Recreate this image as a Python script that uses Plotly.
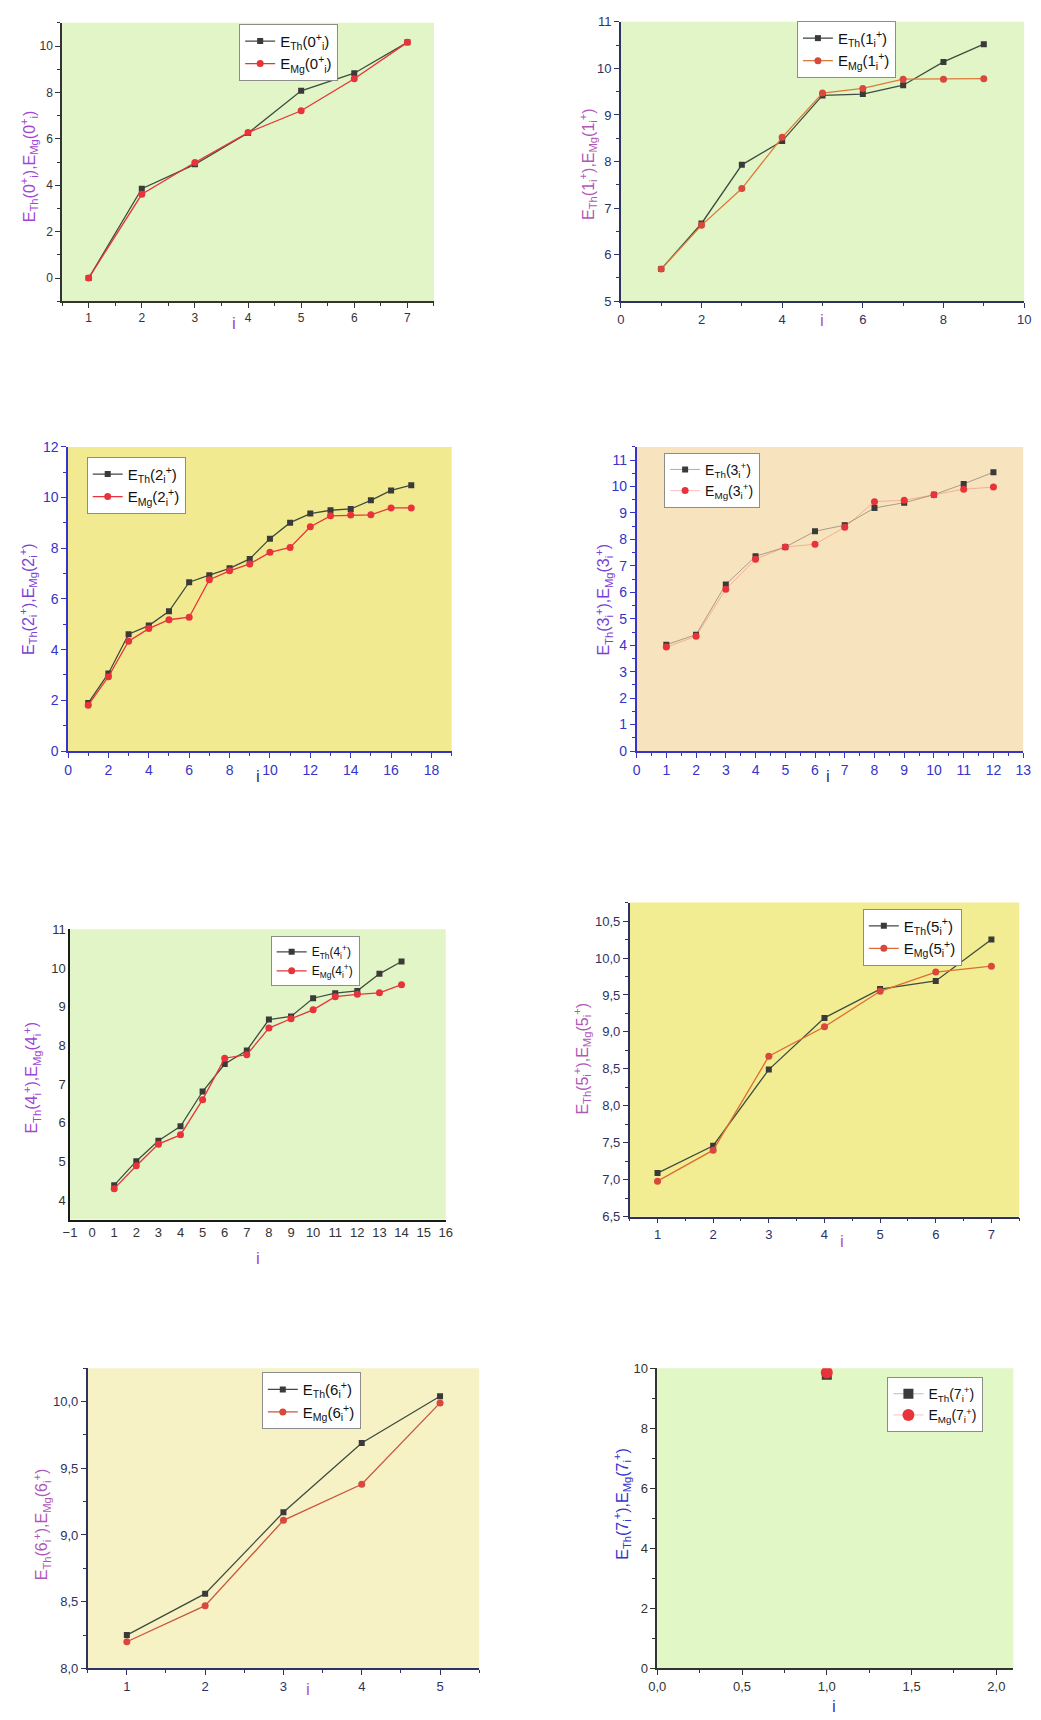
import plotly.graph_objects as go

W, H = 1041, 1720

# Level index i and excitation energies for each J^pi (Th = theory, Mg = experiment)
i_0 = [1, 2, 3, 4, 5, 6, 7]
th_0 = [0.0, 3.85, 4.90, 6.25, 8.07, 8.83, 10.16]
mg_0 = [0.0, 3.61, 4.98, 6.27, 7.21, 8.59, 10.16]

i_1 = [1, 2, 3, 4, 5, 6, 7, 8, 9]
th_1 = [5.69, 6.67, 7.93, 8.44, 9.42, 9.45, 9.64, 10.14, 10.52]
mg_1 = [5.69, 6.63, 7.42, 8.52, 9.47, 9.57, 9.77, 9.77, 9.78]

i_2 = [1, 2, 3, 4, 5, 6, 7, 8, 9, 10, 11, 12, 13, 14, 15, 16, 17]
th_2 = [1.89, 3.06, 4.61, 4.95, 5.51, 6.66, 6.94, 7.21, 7.58, 8.38, 9.01,
        9.37, 9.50, 9.55, 9.89, 10.28, 10.49]
mg_2 = [1.81, 2.93, 4.33, 4.83, 5.18, 5.28, 6.76, 7.11, 7.38, 7.84, 8.03,
        8.85, 9.28, 9.31, 9.32, 9.59, 9.59]

i_3 = [1, 2, 3, 4, 5, 6, 7, 8, 9, 10, 11, 12]
th_3 = [4.02, 4.40, 6.30, 7.36, 7.71, 8.31, 8.54, 9.19, 9.39, 9.69, 10.10, 10.54]
mg_3 = [3.93, 4.34, 6.12, 7.25, 7.71, 7.82, 8.46, 9.43, 9.48, 9.69, 9.90, 9.98]

i_4 = [1, 2, 3, 4, 5, 6, 7, 8, 9, 10, 11, 12, 13, 14]
th_4 = [4.39, 5.01, 5.54, 5.91, 6.81, 7.52, 7.87, 8.67, 8.75, 9.22, 9.35, 9.41, 9.85, 10.17]
mg_4 = [4.30, 4.89, 5.45, 5.69, 6.60, 7.67, 7.76, 8.45, 8.69, 8.92, 9.26, 9.32, 9.36, 9.57]

i_5 = [1, 2, 3, 4, 5, 6, 7]
th_5 = [7.09, 7.46, 8.49, 9.19, 9.58, 9.69, 10.25]
mg_5 = [6.98, 7.40, 8.67, 9.07, 9.55, 9.81, 9.89]

i_6 = [1, 2, 3, 4, 5]
th_6 = [8.25, 8.56, 9.17, 9.69, 10.04]
mg_6 = [8.20, 8.47, 9.11, 9.38, 9.99]

i_7 = [1]
th_7 = [9.78]
mg_7 = [9.86]

FONT = "Liberation Sans, Arial, sans-serif"


def fx(x):
    return x / W


def fy(y):
    return 1 - y / H


def lbl(kind, j, first_sup=False):
    sub = "Th" if kind == "th" else "Mg"
    if first_sup:
        return f"E<sub>{sub}</sub>({j}<sup>+</sup><sub>i</sub>)"
    return f"E<sub>{sub}</sub>({j}<sub>i</sub><sup>+</sup>)"


def ytitle(j, first_sup=False):
    if first_sup:
        a = f"({j}<sup>+</sup><sub>i</sub>)"
    else:
        a = f"({j}<sub>i</sub><sup>+</sup>)"
    return f"E<sub>Th</sub>{a},E<sub>Mg</sub>{a}"


PURPLE = "#a046d2"
MAGENTA = "#b058b8"
VIOLET = "#7a3fd6"
BLUE = "#3434cc"
NAVY = "#2d3262"
DARK = "#333333"

TH_LINE = "#3f4d3f"
TH_MARK = "#3a3a3a"

panels = [
    dict(j=0, xs=i_0, th=th_0, mg=mg_0, box=(54, 432, 15, 296), bg="#e1f5c6",
         xr=[0.5, 7.5], yr=[-1, 11], xd=1, xm=0.5, yd=2, ym=1, x0=1, y0=0,
         axc=DARK, tkc=DARK, tks=12, labc=PURPLE, ilab=PURPLE, ylab=(20, 160), ipos=(229, 318),
         leg=(234, 16), lfs=15, mgl="#e8333a", mgm="#e8333a", thl=TH_LINE, sup=True,
         ticks="outside", ms=(6, 7), lw=1.3),
    dict(j=1, xs=i_1, th=th_1, mg=mg_1, box=(622, 1032, 14, 296), bg="#e1f5c6",
         xr=[0, 10], yr=[5, 11], xd=2, xm=1, yd=1, ym=0.5, x0=0, y0=5,
         axc=NAVY, tkc=NAVY, tks=13, labc=MAGENTA, ilab=MAGENTA, ylab=(588, 157), ipos=(827, 315),
         leg=(801, 13), lfs=15, mgl="#dd7a3a", mgm="#d9473d", thl=TH_LINE, sup=False,
         ticks="outside", ms=(6, 7), lw=1.3),
    dict(j=2, xs=i_2, th=th_2, mg=mg_2, box=(60, 450, 443, 750), bg="#f1ea90",
         xr=[0, 19], yr=[0, 12], xd=2, xm=1, yd=2, ym=1, x0=0, y0=0,
         axc=BLUE, tkc=BLUE, tks=14, labc=VIOLET, ilab=NAVY, ylab=(20, 597), ipos=(253, 776),
         leg=(79, 453), lfs=15, mgl="#e8333a", mgm="#e8333a", thl=TH_LINE, sup=False,
         ticks="outside", ms=(6, 7), lw=1.3),
    dict(j=3, xs=i_3, th=th_3, mg=mg_3, box=(638, 1031, 443, 750), bg="#f7e3bd",
         xr=[0, 13], yr=[0, 11.5], xd=1, xm=0.5, yd=1, ym=0.5, x0=0, y0=0,
         axc=BLUE, tkc=BLUE, tks=14, labc=VIOLET, ilab=NAVY, ylab=(605, 597), ipos=(833, 776),
         leg=(666, 449), lfs=14, mgl="rgba(232,80,80,0.35)", mgm="#e8333a",
         thl="rgba(70,70,70,0.45)", sup=False,
         ticks="outside", ms=(6, 7), lw=1.0),
    dict(j=4, xs=i_4, th=th_4, mg=mg_4, box=(62, 444, 930, 1223), bg="#e1f5c6",
         xr=[-1, 16], yr=[3.5, 11], xd=1, xm=None, yd=1, ym=None, x0=-1, y0=4,
         axc="#1a1a1a", tkc=DARK, tks=13, labc=PURPLE, ilab=PURPLE, ylab=(23, 1080), ipos=(253, 1262),
         leg=(266, 937), lfs=12, mgl="#e8333a", mgm="#e8333a", thl=TH_LINE, sup=False,
         ticks="", ms=(6, 7), lw=1.3),
    dict(j=5, xs=i_5, th=th_5, mg=mg_5, box=(631, 1027, 903, 1220), bg="#f2ec92",
         xr=[0.5, 7.5], yr=[6.5, 10.75], xd=1, xm=0.5, yd=0.5, ym=0.25, x0=1, y0=6.5,
         axc=NAVY, tkc=NAVY, tks=13, labc=MAGENTA, ilab=MAGENTA, ylab=(583, 1060), ipos=(847, 1245),
         leg=(868, 909), lfs=15, mgl="#dd6e33", mgm="#d9473d", thl=TH_LINE, sup=False,
         ticks="outside", ms=(6, 7), lw=1.3),
    dict(j=6, xs=i_6, th=th_6, mg=mg_6, box=(80, 478, 1373, 1676), bg="#f6f2c6",
         xr=[0.5, 5.5], yr=[8, 10.25], xd=1, xm=0.5, yd=0.5, ym=0.25, x0=1, y0=8,
         axc=NAVY, tkc=NAVY, tks=13, labc=MAGENTA, ilab=MAGENTA, ylab=(33, 1530), ipos=(304, 1697),
         leg=(257, 1377), lfs=15, mgl="#c9573d", mgm="#d9473d", thl=TH_LINE, sup=False,
         ticks="outside", ms=(6, 7), lw=1.3),
    dict(j=7, xs=i_7, th=th_7, mg=mg_7, box=(659, 1021, 1373, 1676), bg="#e1f7c6",
         xr=[0, 2.1], yr=[0, 10], xd=0.5, xm=0.25, yd=2, ym=1, x0=0, y0=0,
         axc=DARK, tkc=DARK, tks=13, labc=BLUE, ilab=BLUE, ylab=(623, 1510), ipos=(839, 1714),
         leg=(893, 1382), lfs=14, mgl="rgba(232,80,80,0.35)", mgm="#e8333a",
         thl="rgba(70,70,70,0.35)", sup=False,
         ticks="outside", ms=(10, 12), lw=1.0),
]

# comma-decimal tick formats for the panels that show fractional ticks
y_fmt = {6: ".1f", 7: ".1f"}
x_fmt = {8: ".1f"}

fig = go.Figure()
annotations = []
shapes = []

for k, p in enumerate(panels, start=1):
    xa = "x" if k == 1 else f"x{k}"
    ya = "y" if k == 1 else f"y{k}"
    xkey = "xaxis" if k == 1 else f"xaxis{k}"
    ykey = "yaxis" if k == 1 else f"yaxis{k}"
    lkey = "legend" if k == 1 else f"legend{k}"
    x0p, x1p, y0p, y1p = p["box"]

    fig.add_trace(go.Scatter(
        x=p["xs"], y=p["th"], xaxis=xa, yaxis=ya, legend=lkey,
        mode="lines+markers", name=lbl("th", p["j"], p["sup"]),
        line=dict(color=p["thl"], width=p["lw"]),
        marker=dict(symbol="square", size=p["ms"][0], color=TH_MARK),
    ))
    fig.add_trace(go.Scatter(
        x=p["xs"], y=p["mg"], xaxis=xa, yaxis=ya, legend=lkey,
        mode="lines+markers", name=lbl("mg", p["j"], p["sup"]),
        line=dict(color=p["mgl"], width=p["lw"]),
        marker=dict(symbol="circle", size=p["ms"][1], color=p["mgm"]),
    ))

    common = dict(
        showgrid=False, zeroline=False, showline=True, linecolor=p["axc"], linewidth=1.5,
        ticks=p["ticks"], ticklen=5, tickwidth=1.2, tickcolor=p["axc"],
        tickfont=dict(family=FONT, size=p["tks"], color=p["tkc"]),
        mirror=False, fixedrange=True,
    )

    xax = dict(common, domain=[fx(x0p), fx(x1p)], anchor=ya, range=p["xr"],
               tickmode="linear", tick0=p["x0"], dtick=p["xd"])
    yax = dict(common, domain=[fy(y1p), fy(y0p)], anchor=xa, range=p["yr"],
               tickmode="linear", tick0=p["y0"], dtick=p["yd"])
    if p["xm"]:
        xax["minor"] = dict(dtick=p["xm"], ticks="outside", ticklen=3,
                            tickcolor=p["axc"], showgrid=False)
    if p["ym"]:
        yax["minor"] = dict(dtick=p["ym"], ticks="outside", ticklen=3,
                            tickcolor=p["axc"], showgrid=False)
    if k in y_fmt:
        yax["tickformat"] = y_fmt[k]
    if k in x_fmt:
        xax["tickformat"] = x_fmt[k]
    fig.update_layout({xkey: xax, ykey: yax})

    fig.update_layout({lkey: dict(
        x=fx(p["leg"][0]), y=fy(p["leg"][1]), xanchor="left", yanchor="top",
        xref="paper", yref="paper",
        bgcolor="white", bordercolor="#8c8c8c", borderwidth=1,
        font=dict(family=FONT, size=p["lfs"], color="#111111"),
        tracegroupgap=0, itemwidth=30,
    )})

    shapes.append(dict(type="rect", xref="paper", yref="paper",
                       x0=fx(x0p), x1=fx(x1p), y0=fy(y1p), y1=fy(y0p),
                       fillcolor=p["bg"], line=dict(width=0), layer="below"))

    annotations.append(dict(
        text=ytitle(p["j"], p["sup"]), xref="paper", yref="paper",
        x=fx(p["ylab"][0]), y=fy(p["ylab"][1]), textangle=-90, showarrow=False,
        xanchor="center", yanchor="middle",
        font=dict(family=FONT, size=16, color=p["labc"]),
    ))
    annotations.append(dict(
        text="i", xref="paper", yref="paper",
        x=fx(p["ipos"][0]), y=fy(p["ipos"][1]), showarrow=False,
        xanchor="center", yanchor="middle",
        font=dict(family=FONT, size=17, color=p["ilab"]),
    ))

fig.update_layout(
    width=W, height=H, margin=dict(l=0, r=0, t=0, b=0),
    paper_bgcolor="white", plot_bgcolor="rgba(0,0,0,0)",
    separators=",.", showlegend=True,
    shapes=shapes, annotations=annotations,
    font=dict(family=FONT),
)

fig.write_html("out.html")
